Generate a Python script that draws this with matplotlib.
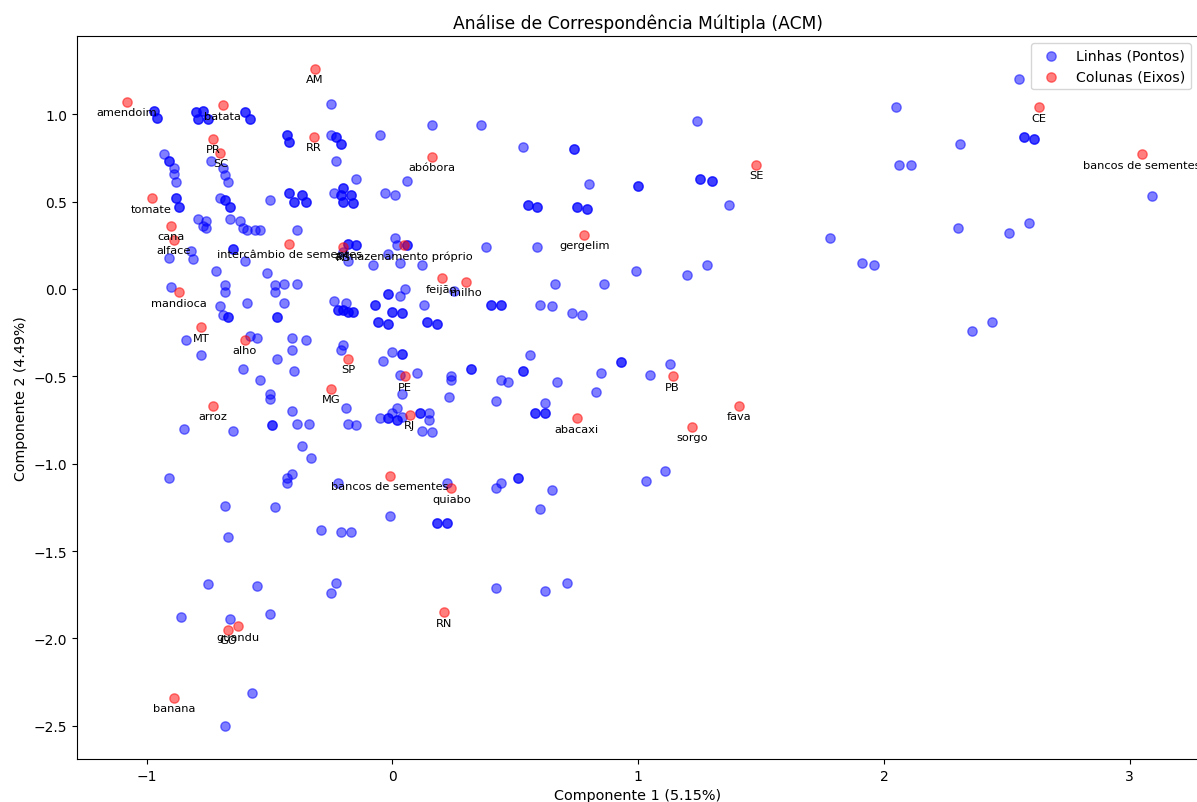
import matplotlib
matplotlib.use("Agg")
import matplotlib.pyplot as plt

# Coordenadas das linhas (pontos); pontos repetidos aparecem duas vezes
row_x = [
    -0.97, -0.97, -0.96, -0.96, -0.80, -0.80, -0.79, -0.79, -0.77, -0.77, -0.75, -0.75,
    -0.60, -0.60, -0.58, -0.58, -0.43, -0.43, -0.42, -0.42, -0.25, -0.25, -0.23, -0.23,
    -0.21, -0.21, -0.23, -0.93, -0.91, -0.91, -0.89, -0.89, -0.88, -0.74, -0.69, -0.68,
    -0.67, -0.88, -0.88, -0.87, -0.87, -0.70, -0.68, -0.68, -0.66, -0.66, -0.50, -0.42,
    -0.42, -0.40, -0.40, -0.37, -0.37, -0.35, -0.35, -0.24, -0.21, -0.21, -0.20, -0.20,
    -0.20, -0.20, -0.17, -0.17, -0.16, -0.16, -0.15, -0.79, -0.77, -0.76, -0.76, -0.66,
    -0.62, -0.61, -0.59, -0.56, -0.54, -0.39, -0.65, -0.65, -0.60, -0.91, -0.82, -0.81,
    -0.72, -0.51, -0.18, -0.18, -0.15, -0.15, -0.18, -0.20,
    0.16, 0.36, -0.05, 0.53, 0.74, 0.74, 0.06, -0.03, 0.01, 0.80, 1.00, 1.00,
    0.55, 0.55, 0.59, 0.59, 0.75, 0.75, 0.79, 0.79, 0.01, 0.02, 0.06, 0.06,
    -0.02, -0.08, 0.03, 0.12, 0.38, 0.59, 0.99,
    1.24, 2.05, 1.25, 1.25, 1.30, 1.30, 1.37, 2.06, 2.11, 1.78, 1.91, 1.96, 1.28, 1.20,
    2.55, 2.31, 2.57, 2.57, 2.61, 2.61, 3.09, 2.30, 2.51, 2.59, 2.36, 2.44,
    1.13, 1.05, 1.11, 1.03,
    -0.90, -0.68, -0.68, -0.48, -0.48, -0.44, -0.39, -0.70, -0.69, -0.67, -0.67, -0.59,
    -0.44, -0.47, -0.47, -0.24, -0.19, -0.22, -0.22, -0.20, -0.20, -0.18, -0.18, -0.16,
    -0.16, -0.84, -0.78, -0.58, -0.55, -0.41, -0.35, -0.41, -0.47, -0.40, -0.61, -0.54,
    -0.50, -0.50, -0.20, -0.21, -0.19, -0.41, -0.39, -0.34, -0.49, -0.49, -0.18, -0.15,
    -0.85, -0.65, -0.37, -0.33, -0.41, -0.43, -0.43, -0.91, -0.22, -0.68, -0.48, -0.29,
    -0.67, -0.21, -0.17, -0.75, -0.55, -0.23, -0.25, -0.86, -0.66, -0.50, -0.57, -0.68,
    0.42, 0.62, 0.71, 0.18, 0.18, 0.22, 0.22,
    0.05, 0.03, -0.02, -0.02, -0.07, -0.07, 0.00, 0.00, 0.04, 0.04, -0.06, -0.06,
    -0.02, -0.02, 0.13, 0.14, 0.14, 0.18, 0.18, 0.25, 0.40, 0.40, 0.44, 0.44,
    0.60, 0.65, 0.66, 0.86, 0.73, 0.77, 0.00, 0.04, 0.04, -0.04, 0.10, 0.03,
    0.04, 0.24, 0.24, 0.32, 0.32, 0.23, 0.53, 0.53, 0.44, 0.47, 0.56, 0.67,
    0.85, 0.93, 0.93, 0.83, 0.42, 0.62, 0.58, 0.58, 0.62, 0.62, 0.02, 0.00,
    -0.05, -0.02, -0.02, 0.02, 0.02, 0.04, 0.11, 0.11, 0.15, 0.15, 0.12, 0.16,
    0.22, 0.44, 0.42, 0.51, 0.51, 0.65, 0.60, -0.01,
]
row_y = [
    1.02, 1.02, 0.98, 0.98, 1.01, 1.01, 0.97, 0.97, 1.02, 1.02, 0.97, 0.97,
    1.01, 1.01, 0.97, 0.97, 0.88, 0.88, 0.84, 0.84, 1.06, 0.88, 0.87, 0.87,
    0.83, 0.83, 0.73, 0.77, 0.73, 0.73, 0.69, 0.66, 0.61, 0.73, 0.69, 0.65,
    0.61, 0.52, 0.52, 0.47, 0.47, 0.52, 0.51, 0.51, 0.47, 0.47, 0.51, 0.55,
    0.55, 0.50, 0.50, 0.54, 0.54, 0.50, 0.50, 0.55, 0.54, 0.54, 0.58, 0.58,
    0.50, 0.50, 0.54, 0.54, 0.49, 0.49, 0.63, 0.40, 0.36, 0.39, 0.35, 0.40,
    0.39, 0.35, 0.34, 0.34, 0.34, 0.34, 0.23, 0.23, 0.16, 0.18, 0.22, 0.17,
    0.10, 0.09, 0.26, 0.26, 0.25, 0.25, 0.16, 0.21,
    0.94, 0.94, 0.88, 0.81, 0.80, 0.80, 0.62, 0.55, 0.54, 0.60, 0.59, 0.59,
    0.48, 0.48, 0.47, 0.47, 0.47, 0.47, 0.46, 0.46, 0.29, 0.25, 0.25, 0.25,
    0.20, 0.14, 0.15, 0.14, 0.24, 0.24, 0.10,
    0.96, 1.04, 0.63, 0.63, 0.62, 0.62, 0.48, 0.71, 0.71, 0.29, 0.15, 0.14, 0.14, 0.08,
    1.20, 0.83, 0.87, 0.87, 0.86, 0.86, 0.53, 0.35, 0.32, 0.38, -0.24, -0.19,
    -0.43, -0.49, -1.04, -1.10,
    0.01, 0.02, -0.02, 0.02, -0.02, 0.03, 0.03, -0.10, -0.15, -0.16, -0.16, -0.08,
    -0.08, -0.16, -0.16, -0.07, -0.08, -0.12, -0.12, -0.12, -0.12, -0.13, -0.13, -0.13,
    -0.13, -0.29, -0.38, -0.27, -0.28, -0.28, -0.29, -0.35, -0.40, -0.47, -0.46, -0.52,
    -0.60, -0.63, -0.32, -0.35, -0.68, -0.70, -0.77, -0.77, -0.78, -0.78, -0.77, -0.78,
    -0.80, -0.81, -0.90, -0.97, -1.06, -1.08, -1.11, -1.08, -1.11, -1.24, -1.25, -1.38,
    -1.42, -1.39, -1.39, -1.69, -1.70, -1.68, -1.74, -1.88, -1.89, -1.86, -2.31, -2.50,
    -1.71, -1.73, -1.68, -1.34, -1.34, -1.34, -1.34,
    0.00, -0.04, -0.03, -0.03, -0.09, -0.09, -0.13, -0.13, -0.14, -0.14, -0.19, -0.19,
    -0.20, -0.20, -0.09, -0.19, -0.19, -0.20, -0.20, -0.01, -0.09, -0.09, -0.09, -0.09,
    -0.09, -0.10, 0.03, 0.03, -0.14, -0.15, -0.36, -0.37, -0.37, -0.41, -0.48, -0.49,
    -0.60, -0.50, -0.52, -0.46, -0.46, -0.62, -0.47, -0.47, -0.52, -0.53, -0.38, -0.53,
    -0.48, -0.42, -0.42, -0.59, -0.64, -0.65, -0.71, -0.71, -0.71, -0.71, -0.68, -0.71,
    -0.74, -0.74, -0.74, -0.75, -0.75, -0.73, -0.71, -0.71, -0.71, -0.75, -0.81, -0.82,
    -1.11, -1.11, -1.14, -1.08, -1.08, -1.15, -1.26, -1.30,
]

# Coordenadas das colunas (eixos)
col_labels = [
    "AM", "amendoim", "batata", "PR", "SC", "RR", "tomate", "cana", "alface",
    "intercâmbio de sementes", "RS", "armazenamento próprio", "abóbora", "gergelim",
    "feijão", "milho", "SE", "CE", "bancos de sementes", "mandioca", "MT", "alho",
    "SP", "MG", "arroz", "PE", "RJ", "abacaxi", "bancos de sementes", "quiabo",
    "PB", "fava", "sorgo", "RN", "GO", "guandu", "banana",
]
col_x = [
    -0.315, -1.08, -0.69, -0.73, -0.70, -0.32, -0.98, -0.90, -0.89,
    -0.42, -0.20, 0.045, 0.16, 0.78,
    0.20, 0.30, 1.48, 2.63, 3.05, -0.87, -0.78, -0.60,
    -0.18, -0.25, -0.73, 0.05, 0.07, 0.75, -0.01, 0.24,
    1.14, 1.41, 1.22, 0.21, -0.67, -0.63, -0.89,
]
col_y = [
    1.26, 1.07, 1.05, 0.86, 0.78, 0.87, 0.52, 0.36, 0.28,
    0.26, 0.24, 0.25, 0.755, 0.31,
    0.06, 0.04, 0.71, 1.04, 0.77, -0.02, -0.22, -0.29,
    -0.40, -0.57, -0.67, -0.50, -0.72, -0.74, -1.07, -1.14,
    -0.50, -0.67, -0.79, -1.85, -1.95, -1.93, -2.34,
]

fig = plt.figure(figsize=(11.97, 8.03), dpi=100)
fig.subplots_adjust(left=0.0643, right=1.001, top=0.954, bottom=0.0535)
ax = fig.add_subplot(111)

ax.scatter(row_x, row_y, c="blue", alpha=0.5, s=45, label="Linhas (Pontos)")
ax.scatter(col_x, col_y, c="red", alpha=0.5, s=45, label="Colunas (Eixos)")

for lab, x, y in zip(col_labels, col_x, col_y):
    ax.annotate(lab, (x, y), xytext=(0, -7.5), textcoords="offset points",
                ha="center", va="center", fontsize=8.2, color="black")

ax.set_xlim(-1.284, 3.279)
ax.set_ylim(-2.69, 1.448)
ax.set_title("Análise de Correspondência Múltipla (ACM)", fontsize=12.3)
ax.set_xlabel("Componente 1 (5.15%)", fontsize=10.4)
ax.set_ylabel("Componente 2 (4.49%)", fontsize=10.2)
ax.legend(loc="upper right", fontsize=10.2)

fig.savefig("out.png", dpi=100)
